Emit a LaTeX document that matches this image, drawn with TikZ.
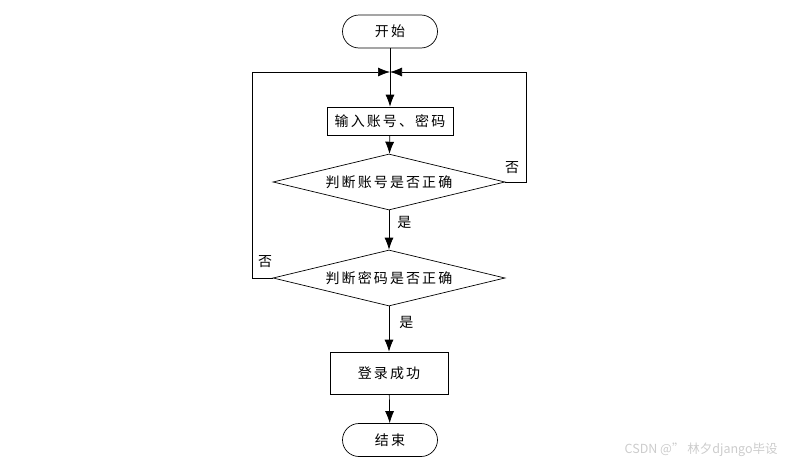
\documentclass[tikz,border=0pt]{standalone}
\usepackage{fontspec}
\newfontfamily\cjk[LetterSpace=15]{Noto Sans CJK SC}
\newfontfamily\cjkmark{Noto Sans CJK SC}
\usetikzlibrary{shapes.geometric,arrows.meta}
\tikzset{
  term/.style={draw,rectangle,rounded corners=16.5pt,minimum width=95pt,minimum height=33pt,inner sep=0pt},
  proc/.style={draw,rectangle,inner sep=0pt},
  decide/.style={draw,diamond,aspect=4.14,minimum width=232pt,minimum height=56pt,inner sep=0pt},
  lbl/.style={font=\cjk\fontsize{14}{16}\selectfont,inner sep=0pt}
}
\begin{document}
\begin{tikzpicture}[x=1pt,y=-1pt,>={Latex[length=12pt,width=9pt]},line width=0.7pt,
  every node/.style={font=\cjk\fontsize{14}{16}\selectfont}]
\useasboundingbox (0,0) rectangle (785,466);
    \node[term] (start) at (390,31.5) {开始};
    \node[proc,minimum width=126pt,minimum height=28pt] (input) at (390,121) {输入账号、密码};
    \node[decide] (checkuser) at (389,182) {判断账号是否正确};
    \node[decide] (checkpwd) at (389,278) {判断密码是否正确};
    \node[proc,minimum width=118pt,minimum height=42pt] (success) at (389,373) {登录成功};
    \node[term] (stop) at (390,440) {结束};
    \coordinate (join) at (390,72);
    % main flow
    \draw[->] (start) -- (input);
    \draw[->] (input) -- (checkuser);
    \draw[->] (checkuser) -- node[lbl,right=8pt,pos=0.3] {是} (checkpwd);
    \draw[->] (checkpwd) -- node[lbl,right=10pt,pos=0.35] {是} (success);
    \draw[->] (success) -- (stop);
    % loops back
    \draw[->] (checkuser.east) -- ++(21,0) |- (join);
    \draw[->] (checkpwd.west) -- ++(-20,0) |- (join);
    \node[lbl] at (512,168) {否};
    \node[lbl] at (265,262) {否};
    \node[font=\cjkmark\fontsize{12.5}{14}\selectfont,text=black!20,anchor=east,inner sep=0pt] (mark) at (778,450) {CSDN @” 林夕django毕设};
\end{tikzpicture}
\end{document}
